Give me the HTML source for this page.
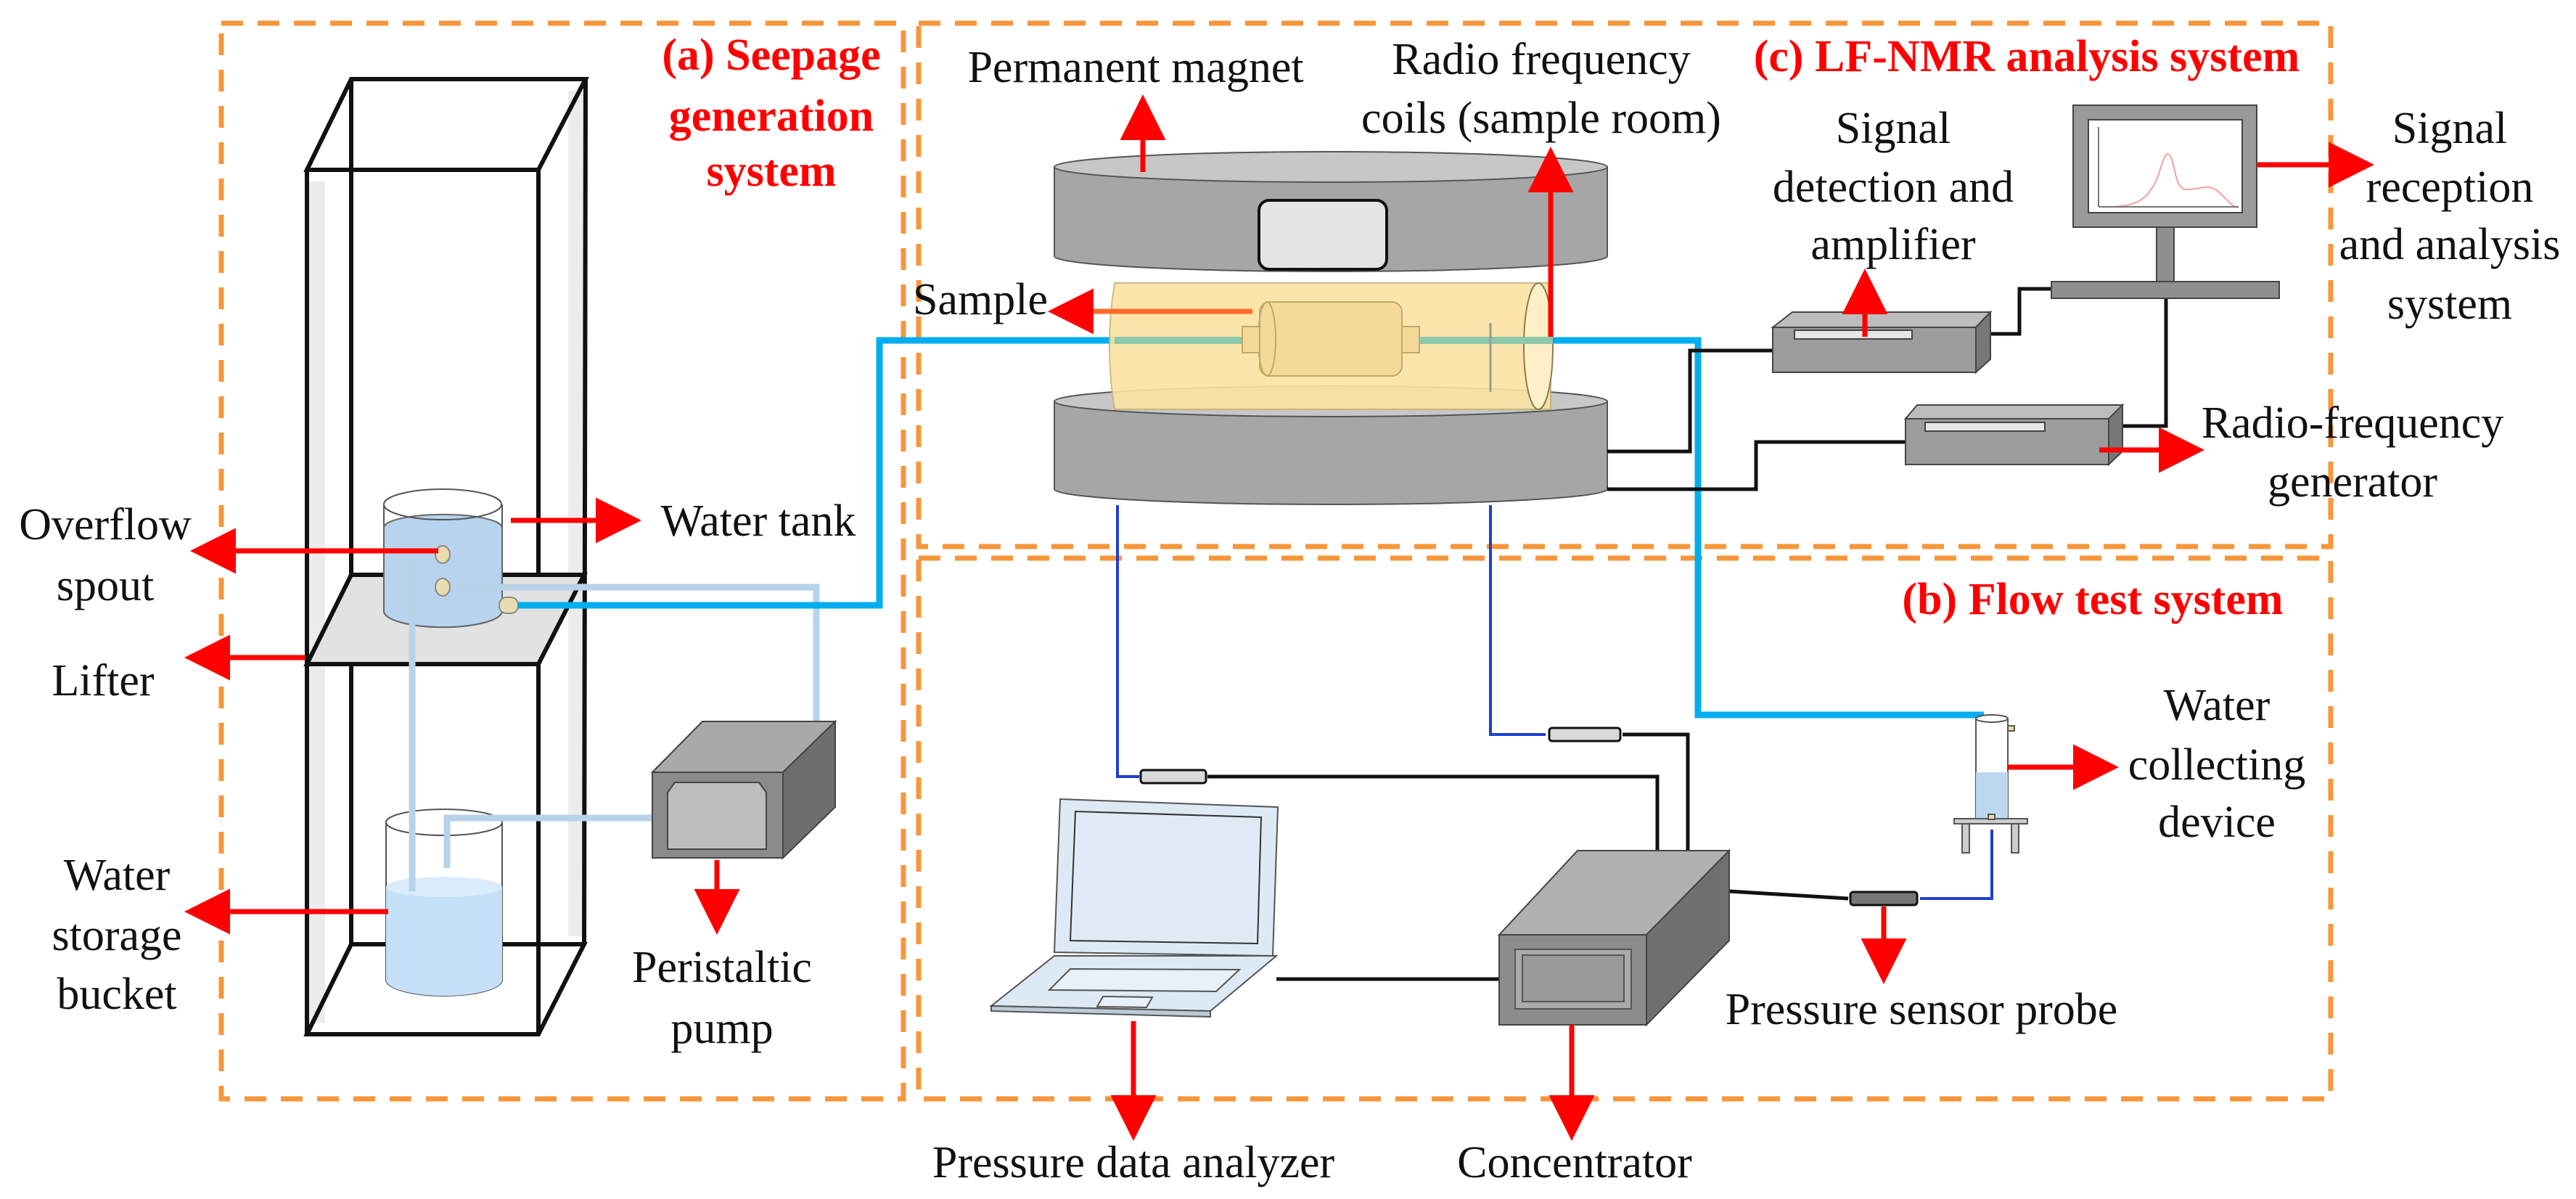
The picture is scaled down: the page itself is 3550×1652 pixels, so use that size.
<!DOCTYPE html>
<html><head><meta charset="utf-8"><style>
html,body{margin:0;padding:0;background:#fff;}
svg{display:block;}
svg text{font-family:"Liberation Serif","Times New Roman","DejaVu Serif","Noto Serif CJK SC",serif !important;fill:#111;}
.t{font-size:62px;text-anchor:middle;}
svg text.r{font-size:62px;font-weight:bold;fill:#ff0000;text-anchor:middle;}
</style></head><body>
<svg width="3550" height="1652" viewBox="0 0 3550 1652" xmlns="http://www.w3.org/2000/svg">
<defs>
<marker id="ah" markerWidth="9" markerHeight="9" refX="1" refY="4.5" orient="auto" markerUnits="strokeWidth">
<path d="M0,0 L9,4.5 L0,9 Z" fill="#ff0000"/></marker>
</defs>
<rect width="3550" height="1652" fill="#fff"/>

<g fill="none" stroke="#f7963a" stroke-width="7" stroke-dasharray="30,20">
<rect x="305" y="32" width="940" height="1482"/>
<rect x="1266" y="32" width="1946" height="721"/>
<rect x="1266" y="769" width="1946" height="745"/>
</g>

<g fill="none" stroke="#ececec" stroke-width="24">
<line x1="436" y1="250" x2="436" y2="1410"/>
<line x1="795" y1="125" x2="795" y2="1290"/>
</g>
<g fill="none" stroke="#111" stroke-width="6">
<polygon points="484,109 807,109 742,234 423,234"/>
<line x1="484" y1="109" x2="484" y2="1301"/>
<line x1="807" y1="109" x2="805" y2="1301"/>
<line x1="423" y1="234" x2="423" y2="1425"/>
<line x1="742" y1="234" x2="742" y2="1425"/>
<polygon points="484,1301 805,1301 742,1425 423,1425"/>
</g>
<polygon points="484,792 805,792 742,915 423,915" fill="#e2e2e2" stroke="#111" stroke-width="6"/>

<path d="M529,695 L529,842 A81,22 0 0 0 692,842 L692,695" fill="#fff" stroke="#555" stroke-width="2"/>
<path d="M529,727 L529,842 A81,22 0 0 0 692,842 L692,727 A81,18 0 0 0 529,727Z" fill="#b7d3ee" stroke="#666" stroke-width="2"/>
<ellipse cx="610" cy="695" rx="81" ry="21" fill="none" stroke="#555" stroke-width="2"/>
<path d="M532,1133 L532,1350 A80,22 0 0 0 692,1350 L692,1133" fill="#fff" stroke="#555" stroke-width="2"/>
<path d="M532,1222 L532,1350 A80,22 0 0 0 692,1350 L692,1222 Z" fill="#c6e0f7"/>
<ellipse cx="612" cy="1222" rx="80" ry="14" fill="#daecfb"/>
<ellipse cx="612" cy="1133" rx="80" ry="18" fill="none" stroke="#555" stroke-width="2"/>

<g fill="none" stroke="#b7d3ea" stroke-width="9">
<polyline points="568,769 568,1228"/>
<polyline points="616,1196 616,1127 920,1127"/>
<polyline points="1056,1122 1125,1122 1125,809 635,809"/>
</g>
<g fill="#eadcb0" stroke="#888" stroke-width="2">
<ellipse cx="610" cy="764" rx="10" ry="12"/>
<ellipse cx="610" cy="809" rx="10" ry="12"/>
<rect x="688" y="823" width="26" height="22" rx="10"/>
</g>

<g stroke="#444" stroke-width="2">
<polygon points="899,1064 968,994 1151,994 1079,1064" fill="#a9a9a9"/>
<polygon points="1079,1064 1151,994 1151,1112 1079,1182" fill="#6e6e6e"/>
<rect x="899" y="1064" width="180" height="118" fill="#8b8b8b"/>
<polygon points="930,1078 1046,1078 1056,1092 1056,1170 920,1170 920,1092" fill="#bdbdbd"/>
</g>

<polyline points="714,834 1212,834 1212,469 2340,469 2340,985 2734,985" fill="none" stroke="#00aeef" stroke-width="9"/>

<path d="M1453,553 L1453,674 A381,21 0 0 0 2215,674 L2215,553 Z" fill="#a6a6a6" stroke="#555" stroke-width="2"/>
<ellipse cx="1834" cy="553" rx="381" ry="21" fill="#c7c7c7" stroke="#555" stroke-width="2"/>
<path d="M1536,390 L2137,390 L2137,564 L1536,564 Q1522,477 1536,390Z" fill="#fbe3a2" opacity="0.9" stroke="#c9b37a" stroke-width="2"/>
<ellipse cx="2120" cy="477" rx="20" ry="87" fill="#fdf0c8" stroke="#8a7a50" stroke-width="2"/>
<line x1="1536" y1="469" x2="2140" y2="469" stroke="#8ec9ad" stroke-width="10"/>
<line x1="2054" y1="445" x2="2054" y2="540" stroke="#999" stroke-width="3"/>
<rect x="1736" y="416" width="196" height="102" rx="14" fill="#f3da9b" stroke="#c4a866" stroke-width="2"/>
<ellipse cx="1746" cy="467" rx="12" ry="51" fill="none" stroke="#c4a866" stroke-width="2"/>
<rect x="1712" y="450" width="24" height="36" fill="#f3da9b" stroke="#c4a866" stroke-width="2"/>
<rect x="1932" y="450" width="24" height="36" fill="#f3da9b" stroke="#c4a866" stroke-width="2"/>
<path d="M1453,230 L1453,353 A381,21 0 0 0 2215,353 L2215,230 Z" fill="#a6a6a6" stroke="#555" stroke-width="2"/>
<ellipse cx="1834" cy="230" rx="381" ry="21" fill="#c7c7c7" stroke="#555" stroke-width="2"/>
<rect x="1735" y="276" width="176" height="95" rx="14" fill="#e4e4e4" stroke="#111" stroke-width="4"/>

<g fill="none" stroke="#1f3fd0" stroke-width="4">
<polyline points="1540,696 1540,1070 1570,1070"/>
<polyline points="2054,696 2054,1012 2130,1012"/>
<polyline points="2646,1238 2745,1238 2745,1143"/>
</g>
<g fill="none" stroke="#111" stroke-width="5">
<polyline points="1664,1070 2284,1070 2284,1172"/>
<polyline points="2236,1012 2326,1012 2326,1172"/>
<polyline points="1759,1349 2066,1349"/>
<polyline points="2383,1228 2547,1238"/>
<polyline points="2215,622 2329,622 2329,483 2443,483"/>
<polyline points="2215,674 2420,674 2420,609 2626,609"/>
<polyline points="2743,460 2783,460 2783,398 2827,398"/>
<polyline points="2985,411 2985,587 2925,587"/>
</g>
<g fill="#d9d9d9" stroke="#111" stroke-width="3">
<rect x="1572" y="1061" width="90" height="18" rx="4"/>
<rect x="2135" y="1003" width="98" height="18" rx="4"/>
<rect x="2550" y="1229" width="92" height="18" rx="4" fill="#777"/>
</g>

<g stroke="#555" stroke-width="2">
<polygon points="1461,1101 1761,1112 1754,1317 1453,1312" fill="#dde9f5"/>
<polygon points="1482,1118 1738,1126 1733,1300 1475,1296" fill="#dfeaf6" stroke="#333"/>
<polygon points="1453,1317 1759,1317 1668,1393 1366,1386" fill="#dde9f5"/>
<polygon points="1366,1386 1668,1393 1668,1401 1366,1393" fill="#bcc9d6"/>
<polygon points="1475,1335 1708,1336 1676,1366 1446,1364" fill="#e8f0f9"/>
<polygon points="1520,1373 1588,1374 1580,1388 1512,1387" fill="#e8f0f9"/>
</g>

<g stroke="#444" stroke-width="2">
<polygon points="2066,1288 2174,1172 2383,1172 2269,1288" fill="#b0b0b0"/>
<polygon points="2269,1288 2383,1172 2383,1296 2269,1412" fill="#707070"/>
<rect x="2066" y="1288" width="203" height="124" fill="#8c8c8c"/>
<rect x="2088" y="1308" width="160" height="82" fill="#aaa" stroke="#555"/>
<rect x="2098" y="1316" width="140" height="64" fill="#9a9a9a" stroke="#555"/>
</g>

<g stroke="#444" stroke-width="2">
<polygon points="2443,451 2470,430 2743,430 2723,451" fill="#bdbdbd"/>
<polygon points="2723,451 2743,430 2743,495 2723,513" fill="#777"/>
<rect x="2443" y="451" width="280" height="62" fill="#9c9c9c"/>
<rect x="2473" y="455" width="162" height="12" fill="#e6e6e6"/>
</g>
<g stroke="#444" stroke-width="2">
<polygon points="2626,577 2642,558 2925,558 2906,577" fill="#bdbdbd"/>
<polygon points="2906,577 2925,558 2925,622 2906,640" fill="#777"/>
<rect x="2626" y="577" width="280" height="63" fill="#9c9c9c"/>
<rect x="2653" y="582" width="165" height="12" fill="#e6e6e6"/>
</g>
<g stroke="#444" stroke-width="2">
<rect x="2972" y="313" width="24" height="78" fill="#8f8f8f"/>
<rect x="2827" y="388" width="314" height="23" fill="#8f8f8f"/>
<rect x="2857" y="145" width="253" height="168" fill="#9a9a9a"/>
<rect x="2878" y="165" width="212" height="128" fill="#fff"/>
</g>
<path d="M2900,285 C2940,285 2960,280 2975,240 C2985,205 2990,200 2998,240 C3005,270 3015,260 3040,258 C3060,256 3070,285 3085,286" fill="none" stroke="#f3a0a0" stroke-width="2"/>
<line x1="2892" y1="175" x2="2892" y2="285" stroke="#777" stroke-width="2"/>
<line x1="2892" y1="285" x2="3085" y2="285" stroke="#777" stroke-width="2"/>

<g stroke="#555" stroke-width="2">
<rect x="2723" y="990" width="44" height="138" fill="#fff"/>
<rect x="2723" y="1064" width="44" height="64" fill="#bcd8ef" stroke="none"/>
<ellipse cx="2745" cy="990" rx="22" ry="5" fill="#fff"/>
<rect x="2767" y="1000" width="9" height="7" fill="#e8dca0"/>
<rect x="2693" y="1128" width="101" height="7" fill="#ccc"/>
<rect x="2704" y="1135" width="10" height="40" fill="#ccc"/>
<rect x="2772" y="1135" width="10" height="40" fill="#ccc"/>
<rect x="2740" y="1122" width="9" height="7" fill="#e8dca0"/>
</g>

<g stroke="#ff0000" stroke-width="7" fill="none" marker-end="url(#ah)">
<line x1="604" y1="759" x2="318" y2="759"/>
<line x1="421" y1="906" x2="310" y2="906"/>
<line x1="535" y1="1256" x2="310" y2="1256"/>
<line x1="704" y1="717" x2="828" y2="717"/>
<line x1="988" y1="1185" x2="988" y2="1232"/>
<line x1="1575" y1="237" x2="1575" y2="186"/>
<line x1="2137" y1="464" x2="2137" y2="258"/>
<line x1="1726" y1="429" x2="1500" y2="429" stroke="#ff6a2a"/>
<line x1="1562" y1="1407" x2="1562" y2="1516"/>
<line x1="2166" y1="1412" x2="2166" y2="1516"/>
<line x1="2570" y1="464" x2="2570" y2="426"/>
<line x1="3110" y1="227" x2="3216" y2="227"/>
<line x1="2893" y1="620" x2="2982" y2="620"/>
<line x1="2767" y1="1057" x2="2864" y2="1057"/>
<line x1="2596" y1="1249" x2="2596" y2="1300"/>
</g>

<text class="r" x="1063" y="96">(a) Seepage</text>
<text class="r" x="1063" y="180">generation</text>
<text class="r" x="1063" y="256">system</text>
<text class="r" x="2793" y="98">(c) LF-NMR analysis system</text>
<text class="r" x="2884" y="846">(b) Flow test system</text>

<text class="t" x="145" y="743">Overflow</text>
<text class="t" x="145" y="827">spout</text>
<text class="t" x="142" y="958">Lifter</text>
<text class="t" x="161" y="1226">Water</text>
<text class="t" x="161" y="1309">storage</text>
<text class="t" x="161" y="1390">bucket</text>
<text class="t" x="1045" y="738">Water tank</text>
<text class="t" x="995" y="1353">Peristaltic</text>
<text class="t" x="995" y="1437">pump</text>
<text class="t" x="1565" y="113">Permanent magnet</text>
<text class="t" x="2124" y="102">Radio frequency</text>
<text class="t" x="2124" y="183">coils (sample room)</text>
<text class="t" x="1351" y="433">Sample</text>
<text class="t" x="2609" y="197">Signal</text>
<text class="t" x="2609" y="278">detection and</text>
<text class="t" x="2609" y="357">amplifier</text>
<text class="t" x="3376" y="197">Signal</text>
<text class="t" x="3376" y="278">reception</text>
<text class="t" x="3376" y="357">and analysis</text>
<text class="t" x="3376" y="439">system</text>
<text class="t" x="3242" y="603">Radio-frequency</text>
<text class="t" x="3242" y="684">generator</text>
<text class="t" x="3055" y="992">Water</text>
<text class="t" x="3055" y="1074">collecting</text>
<text class="t" x="3055" y="1153">device</text>
<text class="t" x="2648" y="1411">Pressure sensor probe</text>
<text class="t" x="1562" y="1622">Pressure data analyzer</text>
<text class="t" x="2170" y="1622">Concentrator</text>
</svg>
</body></html>
